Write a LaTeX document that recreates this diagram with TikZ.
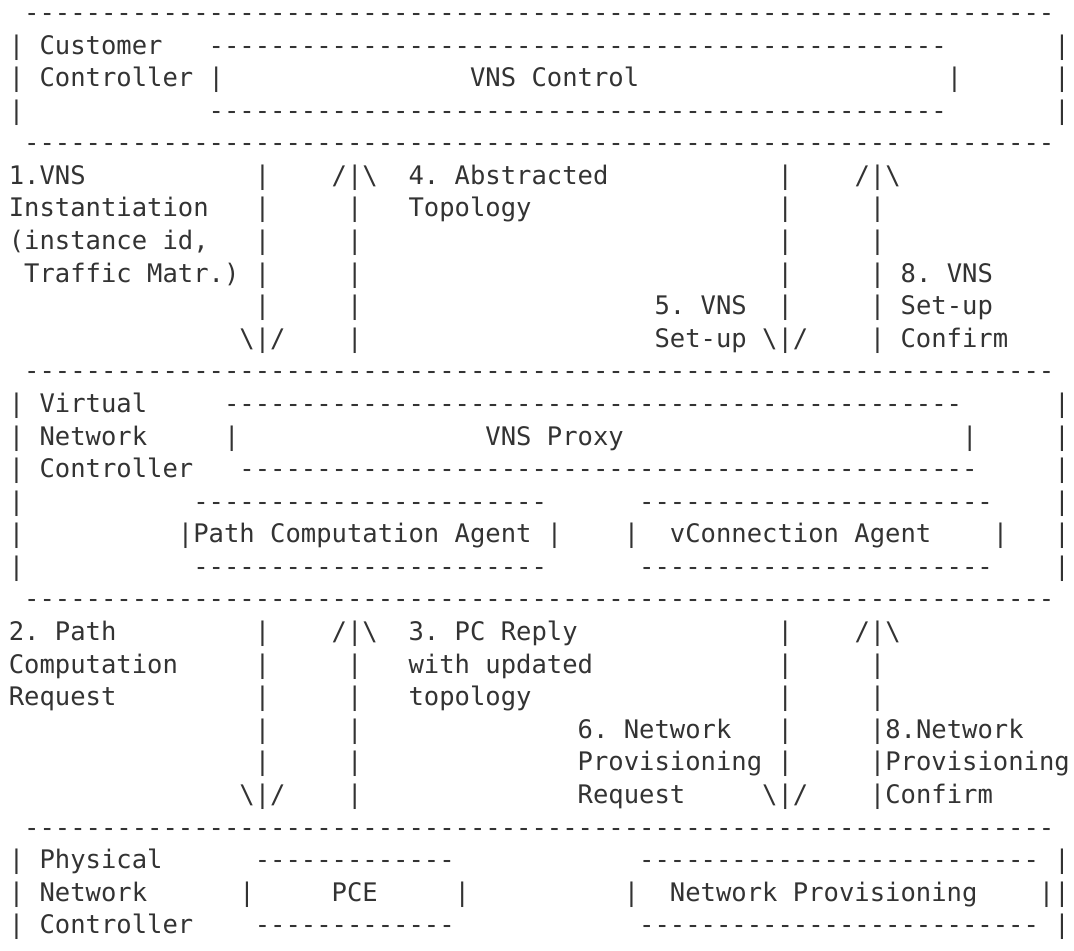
\documentclass[tikz,border=0pt]{standalone}
\usepackage{fontspec}
\setmonofont{DejaVu Sans Mono}
\usepackage{xcolor}
\usepackage{tikz}

\definecolor{ink}{HTML}{333333}
% one blank column / a run of dashes / the two arrow heads
\newcommand{\colgap}[1]{\hspace*{#1\fontcharwd\font`M\relax}}
\newcommand{\dashrun}[1]{\foreach \i in {1,...,#1}{-}}
\newcommand{\arrup}{/|\textbackslash}
\newcommand{\arrdown}{\textbackslash|/}

\tikzset{
  asc/.style={anchor=base west, inner sep=0pt, outer sep=0pt, text=ink,
    font=\ttfamily\frenchspacing\fontsize{12.77pt}{15pt}\selectfont}
}

\begin{document}
\begin{tikzpicture}
      \fill[white] (0pt,0pt) rectangle (537pt,-475.5pt);
      \useasboundingbox (0pt,0pt) rectangle (537pt,-475.5pt);
      \begin{scope}[x=7.69pt, y=-16.29pt, xshift=4.4pt, yshift=5.54pt]
      % Customer controller
      \node[asc] (edgeA) at (0,1) {\colgap{1}\dashrun{67}};
      \node[asc] (custA) at (0,2) {| Customer\colgap{3}\dashrun{48}\colgap{7}|};
      \node[asc] (custB) at (0,3) {| Controller |\colgap{16}VNS Control\colgap{20}|\colgap{6}|};
      \node[asc] (custC) at (0,4) {|\colgap{12}\dashrun{48}\colgap{7}|};
      \node[asc] (edgeB) at (0,5) {\colgap{1}\dashrun{67}};

      % VNS messages
      \node[asc] (vnsA) at (0,6) {1.VNS\colgap{11}|\colgap{4}\arrup\colgap{2}4. Abstracted\colgap{11}|\colgap{4}\arrup};
      \node[asc] (vnsB) at (0,7) {Instantiation\colgap{3}|\colgap{5}|\colgap{3}Topology\colgap{16}|\colgap{5}|};
      \node[asc] (vnsC) at (0,8) {(instance id,\colgap{3}|\colgap{5}|\colgap{27}|\colgap{5}|};
      \node[asc] (vnsD) at (0,9) {\colgap{1}Traffic Matr.)\colgap{1}|\colgap{5}|\colgap{27}|\colgap{5}|\colgap{1}8. VNS};
      \node[asc] (vnsE) at (0,10) {\colgap{16}|\colgap{5}|\colgap{19}5. VNS\colgap{2}|\colgap{5}|\colgap{1}Set-up};
      \node[asc] (vnsF) at (0,11) {\colgap{15}\arrdown\colgap{4}|\colgap{19}Set-up\colgap{1}\arrdown\colgap{4}|\colgap{1}Confirm};

      % Virtual network controller
      \node[asc] (edgeC) at (0,12) {\colgap{1}\dashrun{67}};
      \node[asc] (vncA) at (0,13) {| Virtual\colgap{5}\dashrun{48}\colgap{6}|};
      \node[asc] (vncB) at (0,14) {| Network\colgap{5}|\colgap{16}VNS Proxy\colgap{22}|\colgap{5}|};
      \node[asc] (vncC) at (0,15) {| Controller\colgap{3}\dashrun{48}\colgap{5}|};
      \node[asc] (vncD) at (0,16) {|\colgap{11}\dashrun{23}\colgap{6}\dashrun{23}\colgap{4}|};
      \node[asc] (vncE) at (0,17) {|\colgap{10}|Path Computation Agent |\colgap{4}|\colgap{2}vConnection Agent\colgap{4}|\colgap{3}|};
      \node[asc] (vncF) at (0,18) {|\colgap{11}\dashrun{23}\colgap{6}\dashrun{23}\colgap{4}|};
      \node[asc] (edgeD) at (0,19) {\colgap{1}\dashrun{67}};

      % PC and provisioning messages
      \node[asc] (pcA) at (0,20) {2. Path\colgap{9}|\colgap{4}\arrup\colgap{2}3. PC Reply\colgap{13}|\colgap{4}\arrup};
      \node[asc] (pcB) at (0,21) {Computation\colgap{5}|\colgap{5}|\colgap{3}with updated\colgap{12}|\colgap{5}|};
      \node[asc] (pcC) at (0,22) {Request\colgap{9}|\colgap{5}|\colgap{3}topology\colgap{16}|\colgap{5}|};
      \node[asc] (pcD) at (0,23) {\colgap{16}|\colgap{5}|\colgap{14}6. Network\colgap{3}|\colgap{5}|8.Network};
      \node[asc] (pcE) at (0,24) {\colgap{16}|\colgap{5}|\colgap{14}Provisioning\colgap{1}|\colgap{5}|Provisioning};
      \node[asc] (pcF) at (0,25) {\colgap{15}\arrdown\colgap{4}|\colgap{14}Request\colgap{5}\arrdown\colgap{4}|Confirm};

      % Physical network controller
      \node[asc] (edgeE) at (0,26) {\colgap{1}\dashrun{67}};
      \node[asc] (pncA) at (0,27) {| Physical\colgap{6}\dashrun{13}\colgap{12}\dashrun{26}\colgap{1}|};
      \node[asc] (pncB) at (0,28) {| Network\colgap{6}|\colgap{5}PCE\colgap{5}|\colgap{10}|\colgap{2}Network Provisioning\colgap{4}||};
      \node[asc] (pncC) at (0,29) {| Controller\colgap{4}\dashrun{13}\colgap{12}\dashrun{26}\colgap{1}|};
      \end{scope}
    \end{tikzpicture}
\end{document}
